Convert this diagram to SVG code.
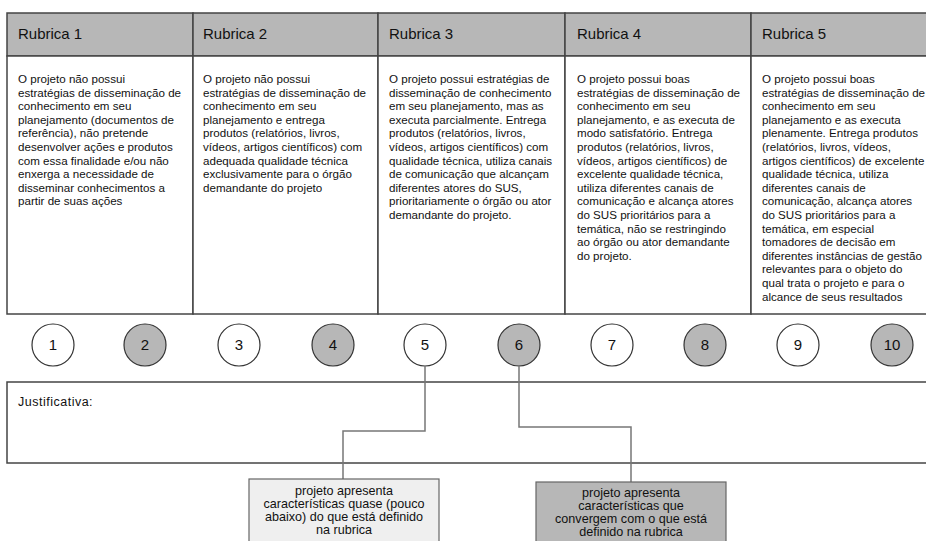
<svg xmlns="http://www.w3.org/2000/svg" width="926" height="541" viewBox="0 0 926 541">
<style>
.hdr{fill:#b7b7b7;stroke:#444;stroke-width:1.5}
.cell{fill:#fff;stroke:#444;stroke-width:1.5}
.ht{font-family:"Liberation Sans",Arial,sans-serif;font-size:15px;fill:#111}
.bt{font-family:"Liberation Sans",Arial,sans-serif;font-size:11.6px;fill:#111}
.jt{font-family:"Liberation Sans",Arial,sans-serif;font-size:12.5px;letter-spacing:0.5px;fill:#111}
.cw{fill:#fff;stroke:#333;stroke-width:1.2}
.cg{fill:#b7b7b7;stroke:#333;stroke-width:1.2}
.ct{font-family:"Liberation Sans",Arial,sans-serif;font-size:15px;fill:#111;text-anchor:middle}
.conn{fill:none;stroke:#777;stroke-width:1.5}
.nt{font-family:"Liberation Sans",Arial,sans-serif;font-size:12.6px;fill:#111;text-anchor:middle}
</style>
<rect width="926" height="541" fill="#fff"/>
<g id="rubrica1">
<rect class="hdr" x="7" y="13" width="186" height="43"/>
<rect class="cell" x="7" y="56" width="186" height="258"/>
<text class="ht" x="18" y="39">Rubrica 1</text>
<text class="bt" x="18" y="83"><tspan x="18">O projeto não possui</tspan><tspan x="18" dy="13.6">estratégias de disseminação de</tspan><tspan x="18" dy="13.6">conhecimento em seu</tspan><tspan x="18" dy="13.6">planejamento (documentos de</tspan><tspan x="18" dy="13.6">referência), não pretende</tspan><tspan x="18" dy="13.6">desenvolver ações e produtos</tspan><tspan x="18" dy="13.6">com essa finalidade e/ou não</tspan><tspan x="18" dy="13.6">enxerga a necessidade de</tspan><tspan x="18" dy="13.6">disseminar conhecimentos a</tspan><tspan x="18" dy="13.6">partir de suas ações</tspan></text>
</g>
<g id="rubrica2">
<rect class="hdr" x="193" y="13" width="185" height="43"/>
<rect class="cell" x="193" y="56" width="185" height="258"/>
<text class="ht" x="203" y="39">Rubrica 2</text>
<text class="bt" x="203" y="83"><tspan x="203">O projeto não possui</tspan><tspan x="203" dy="13.6">estratégias de disseminação de</tspan><tspan x="203" dy="13.6">conhecimento em seu</tspan><tspan x="203" dy="13.6">planejamento e entrega</tspan><tspan x="203" dy="13.6">produtos (relatórios, livros,</tspan><tspan x="203" dy="13.6">vídeos, artigos científicos) com</tspan><tspan x="203" dy="13.6">adequada qualidade técnica</tspan><tspan x="203" dy="13.6">exclusivamente para o órgão</tspan><tspan x="203" dy="13.6">demandante do projeto</tspan></text>
</g>
<g id="rubrica3">
<rect class="hdr" x="378" y="13" width="187" height="43"/>
<rect class="cell" x="378" y="56" width="187" height="258"/>
<text class="ht" x="389" y="39">Rubrica 3</text>
<text class="bt" x="389" y="83"><tspan x="389">O projeto possui estratégias de</tspan><tspan x="389" dy="13.6">disseminação de conhecimento</tspan><tspan x="389" dy="13.6">em seu planejamento, mas as</tspan><tspan x="389" dy="13.6">executa parcialmente. Entrega</tspan><tspan x="389" dy="13.6">produtos (relatórios, livros,</tspan><tspan x="389" dy="13.6">vídeos, artigos científicos) com</tspan><tspan x="389" dy="13.6">qualidade técnica, utiliza canais</tspan><tspan x="389" dy="13.6">de comunicação que alcançam</tspan><tspan x="389" dy="13.6">diferentes atores do SUS,</tspan><tspan x="389" dy="13.6">prioritariamente o órgão ou ator</tspan><tspan x="389" dy="13.6">demandante do projeto.</tspan></text>
</g>
<g id="rubrica4">
<rect class="hdr" x="565" y="13" width="186" height="43"/>
<rect class="cell" x="565" y="56" width="186" height="258"/>
<text class="ht" x="577" y="39">Rubrica 4</text>
<text class="bt" x="577" y="83"><tspan x="577">O projeto possui boas</tspan><tspan x="577" dy="13.6">estratégias de disseminação de</tspan><tspan x="577" dy="13.6">conhecimento em seu</tspan><tspan x="577" dy="13.6">planejamento, e as executa de</tspan><tspan x="577" dy="13.6">modo satisfatório. Entrega</tspan><tspan x="577" dy="13.6">produtos (relatórios, livros,</tspan><tspan x="577" dy="13.6">vídeos, artigos científicos) de</tspan><tspan x="577" dy="13.6">excelente qualidade técnica,</tspan><tspan x="577" dy="13.6">utiliza diferentes canais de</tspan><tspan x="577" dy="13.6">comunicação e alcança atores</tspan><tspan x="577" dy="13.6">do SUS prioritários para a</tspan><tspan x="577" dy="13.6">temática, não se restringindo</tspan><tspan x="577" dy="13.6">ao órgão ou ator demandante</tspan><tspan x="577" dy="13.6">do projeto.</tspan></text>
</g>
<g id="rubrica5">
<rect class="hdr" x="751" y="13" width="190" height="43"/>
<rect class="cell" x="751" y="56" width="190" height="258"/>
<text class="ht" x="762" y="39">Rubrica 5</text>
<text class="bt" x="762" y="83"><tspan x="762">O projeto possui boas</tspan><tspan x="762" dy="13.6">estratégias de disseminação de</tspan><tspan x="762" dy="13.6">conhecimento em seu</tspan><tspan x="762" dy="13.6">planejamento e as executa</tspan><tspan x="762" dy="13.6">plenamente. Entrega produtos</tspan><tspan x="762" dy="13.6">(relatórios, livros, vídeos,</tspan><tspan x="762" dy="13.6">artigos científicos) de excelente</tspan><tspan x="762" dy="13.6">qualidade técnica, utiliza</tspan><tspan x="762" dy="13.6">diferentes canais de</tspan><tspan x="762" dy="13.6">comunicação, alcança atores</tspan><tspan x="762" dy="13.6">do SUS prioritários para a</tspan><tspan x="762" dy="13.6">temática, em especial</tspan><tspan x="762" dy="13.6">tomadores de decisão em</tspan><tspan x="762" dy="13.6">diferentes instâncias de gestão</tspan><tspan x="762" dy="13.6">relevantes para o objeto do</tspan><tspan x="762" dy="13.6">qual trata o projeto e para o</tspan><tspan x="762" dy="13.6">alcance de seus resultados</tspan></text>
</g>
<g id="justificativa">
<rect class="cell" x="7" y="382" width="940" height="81"/>
<text class="jt" x="18" y="406">Justificativa:</text>
</g>
<g id="score1"><circle class="cw" cx="53" cy="345" r="21"/><text class="ct" x="53" y="350">1</text></g>
<g id="score2"><circle class="cg" cx="145" cy="345" r="21"/><text class="ct" x="145" y="350">2</text></g>
<g id="score3"><circle class="cw" cx="239" cy="345" r="21"/><text class="ct" x="239" y="350">3</text></g>
<g id="score4"><circle class="cg" cx="333" cy="345" r="21"/><text class="ct" x="333" y="350">4</text></g>
<g id="score5"><circle class="cw" cx="425" cy="345" r="21"/><text class="ct" x="425" y="350">5</text></g>
<g id="score6"><circle class="cg" cx="519" cy="345" r="21"/><text class="ct" x="519" y="350">6</text></g>
<g id="score7"><circle class="cw" cx="612" cy="345" r="21"/><text class="ct" x="612" y="350">7</text></g>
<g id="score8"><circle class="cg" cx="705" cy="345" r="21"/><text class="ct" x="705" y="350">8</text></g>
<g id="score9"><circle class="cw" cx="798" cy="345" r="21"/><text class="ct" x="798" y="350">9</text></g>
<g id="score10"><circle class="cg" cx="892" cy="345" r="21"/><text class="ct" x="892" y="350">10</text></g>
<g id="connectors">
<path class="conn" d="M425,366 V431 H343 V479"/>
<path class="conn" d="M519,366 V427 H631 V482"/>
</g>
<g id="note1">
<rect x="249" y="479" width="190" height="80" fill="#efefef" stroke="#666" stroke-width="1.2"/>
<text class="nt" x="344" y="495"><tspan x="344">projeto apresenta</tspan><tspan x="344" dy="13">características quase (pouco</tspan><tspan x="344" dy="13">abaixo) do que está definido</tspan><tspan x="344" dy="13">na rubrica</tspan></text>
</g>
<g id="note2">
<rect x="536" y="482" width="190" height="80" fill="#b7b7b7" stroke="#666" stroke-width="1.2"/>
<text class="nt" x="631" y="497"><tspan x="631">projeto apresenta</tspan><tspan x="631" dy="13">características que</tspan><tspan x="631" dy="13">convergem com o que está</tspan><tspan x="631" dy="13">definido na rubrica</tspan></text>
</g>
</svg>
